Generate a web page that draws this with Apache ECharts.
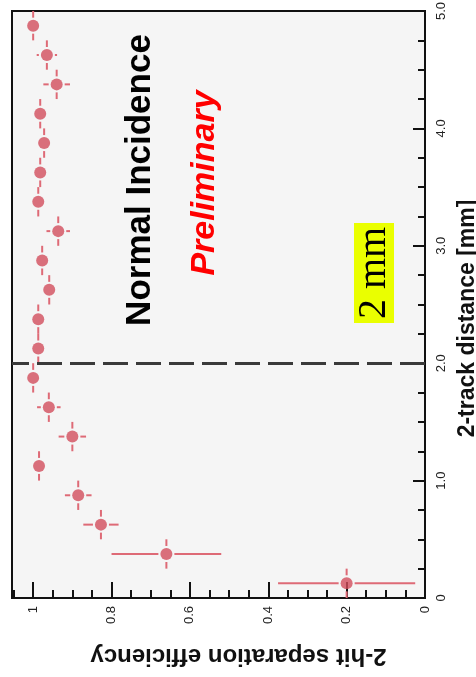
<!DOCTYPE html>
<html>
<head>
<meta charset="utf-8">
<title>2-hit separation efficiency</title>
<script src="https://cdn.jsdelivr.net/npm/echarts@6/dist/echarts.min.js"></script>
</head>
<body style="margin:0;background:#ffffff">
<div id="chart" style="width:476px;height:677px"></div>
<script>
// 2-track distance bins [mm] (bin centres)
var distance = [0.125, 0.375, 0.625, 0.875, 1.125, 1.375, 1.625, 1.875, 2.125, 2.375,
                2.625, 2.875, 3.125, 3.375, 3.625, 3.875, 4.125, 4.375, 4.625, 4.875];
// half bin width
var distanceErr = [0.125, 0.125, 0.125, 0.125, 0.125, 0.125, 0.125, 0.125, 0.125, 0.125,
                   0.125, 0.125, 0.125, 0.125, 0.125, 0.125, 0.125, 0.125, 0.125, 0.125];
// 2-hit separation efficiency
var efficiency = [0.20, 0.66, 0.827, 0.885, 0.985, 0.90, 0.96, 1.0, 0.987, 0.987,
                  0.959, 0.977, 0.936, 0.987, 0.982, 0.972, 0.982, 0.94, 0.965, 1.0];
var efficiencyErr = [0.175, 0.14, 0.045, 0.034, 0.01, 0.035, 0.03, 0.01, 0.01, 0.01,
                     0.015, 0.01, 0.03, 0.01, 0.01, 0.01, 0.01, 0.034, 0.026, 0.01];
var distanceTicks = [0, 1, 2, 3, 4, 5];
var cutDistance = 2.0;

var pointColor = '#d24e5c';
var barColor = '#de6a76';
var font = '"Liberation Sans", Arial, sans-serif';

var points = [], bars = [];
for (var i = 0; i < distance.length; i++) {
    points.push([efficiency[i], distance[i]]);
    bars.push([efficiency[i], distance[i], efficiencyErr[i], distanceErr[i]]);
}

// error bars, drawn with a small gap round the marker
function renderBars(params, api) {
    var e = api.value(0), d = api.value(1), ee = api.value(2), de = api.value(3);
    var c = api.coord([e, d]);
    var l = api.coord([e + ee, d]);   // axis is inverse: higher efficiency is left
    var r = api.coord([e - ee, d]);
    var t = api.coord([e, d + de]);
    var b = api.coord([e, d - de]);
    var gap = 8;
    var children = [];
    function seg(x1, y1, x2, y2) {
        children.push({
            type: 'line',
            shape: { x1: x1, y1: y1, x2: x2, y2: y2 },
            style: { stroke: barColor, lineWidth: 2 }
        });
    }
    if (c[0] - l[0] > gap) seg(l[0], c[1], c[0] - gap, c[1]);
    if (r[0] - c[0] > gap) seg(c[0] + gap, c[1], r[0], c[1]);
    if (c[1] - t[1] > gap) seg(c[0], t[1], c[0], c[1] - gap);
    if (b[1] - c[1] > gap) seg(c[0], c[1] + gap, c[0], b[1]);
    return { type: 'group', children: children };
}

var myChart = echarts.init(document.getElementById('chart'));
var option = {
    backgroundColor: '#ffffff',
    animation: false,
    grid: {
        left: 12, right: 51, top: 11, bottom: 79,
        show: true,
        backgroundColor: '#f5f5f5',
        borderColor: '#111111',
        borderWidth: 2,
        outerBoundsMode: 'none'
    },
    xAxis: {
        type: 'value',
        min: 0,
        max: 1.054,
        interval: 0.2,
        inverse: true,
        position: 'bottom',
        axisLine: { show: true, lineStyle: { color: '#111111', width: 2 } },
        axisTick: { show: true, inside: true, length: 16, lineStyle: { color: '#111111', width: 2 } },
        minorTick: { show: true, splitNumber: 4, length: 8, lineStyle: { color: '#111111', width: 2 } },
        splitLine: { show: false },
        axisLabel: {
            rotate: 90, margin: 8, fontSize: 13, color: '#222222', fontFamily: font,
            showMaxLabel: false
        },
        name: '2-hit separation efficiency',
        nameLocation: 'middle',
        nameRotate: 180,
        nameGap: 46,
        nameTextStyle: { fontSize: 24, fontWeight: 'bold', color: '#111111', fontFamily: font,
                         padding: [0, 40, 0, 0] }
    },
    yAxis: {
        type: 'value',
        min: distanceTicks[0],
        max: distanceTicks[distanceTicks.length - 1],
        interval: 1,
        position: 'right',
        axisLine: { show: true, lineStyle: { color: '#111111', width: 2 } },
        axisTick: { show: true, inside: true, length: 12, lineStyle: { color: '#111111', width: 2 } },
        minorTick: { show: true, splitNumber: 4, length: 7, lineStyle: { color: '#111111', width: 2 } },
        splitLine: { show: false },
        axisLabel: {
            rotate: 90, margin: 10, fontSize: 13, color: '#222222', fontFamily: font,
            formatter: function (v) { return v === 0 ? '0' : v.toFixed(1); }
        },
        name: '2-track distance [mm]',
        nameLocation: 'middle',
        nameRotate: 90,
        nameGap: 28,
        nameTextStyle: { fontSize: 23, fontWeight: 'bold', color: '#111111', fontFamily: font,
                         padding: [0, 28, 0, 0] }
    },
    series: [
        {
            type: 'custom',
            renderItem: renderBars,
            data: bars,
            encode: { x: 0, y: 1 },
            z: 2,
            silent: true
        },
        {
            type: 'scatter',
            data: points,
            symbol: 'circle',
            symbolSize: 12,
            itemStyle: { color: pointColor },
            z: 3,
            markLine: {
                silent: true,
                symbol: 'none',
                label: { show: false },
                lineStyle: { color: '#3a3a3a', width: 3, type: [25, 8] },
                data: [{ yAxis: cutDistance }]
            }
        }
    ],
    graphic: [
        {
            type: 'text', x: 140, y: 180, rotation: Math.PI / 2,
            style: { text: 'Normal Incidence', font: 'bold 35px ' + font, fill: '#000000',
                     align: 'center', verticalAlign: 'middle' }
        },
        {
            type: 'text', x: 205, y: 183, rotation: Math.PI / 2,
            style: { text: 'Preliminary', font: 'italic bold 34px ' + font, fill: '#ff0000',
                     align: 'center', verticalAlign: 'middle' }
        },
        {
            // yellow box behind the "2 mm" note
            type: 'text', x: 374, y: 273, rotation: Math.PI / 2,
            style: { text: '2 mm', font: '40px "Liberation Serif", "Times New Roman", serif', fill: '#000000',
                     align: 'center', verticalAlign: 'middle',
                     backgroundColor: '#eaff00', padding: [0, 4, 0, 4], lineHeight: 40 }
        }
    ]
};
myChart.setOption(option);
</script>
</body>
</html>
